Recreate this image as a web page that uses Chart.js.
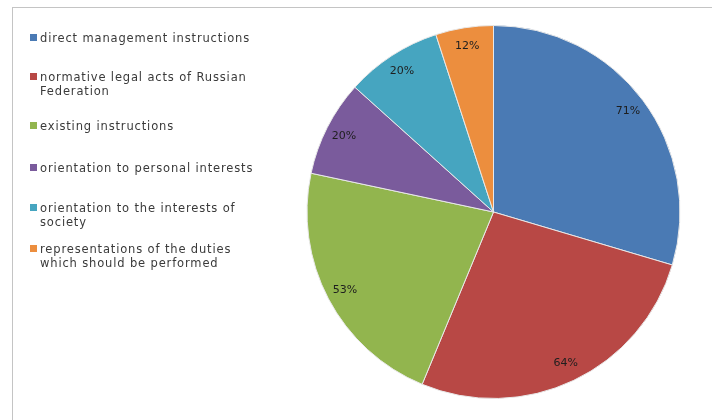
<!DOCTYPE html>
<html>
<head>
<meta charset="utf-8">
<script src="https://cdn.jsdelivr.net/npm/chart.js@4/dist/chart.umd.min.js"></script>
<style>
    html, body { margin: 0; padding: 0; background: #fff; }
    #wrap { position: relative; width: 712px; height: 420px; overflow: hidden; }
    #frame { position: absolute; left: 12px; top: 7px; width: 720px; height: 440px; border: 1px solid #c4c4c4; }
    #chart { position: absolute; left: 0; top: 0; }
    #legend { position: absolute; left: 0; top: 0; font-family: "DejaVu Sans", sans-serif; font-size: 11.5px; letter-spacing: 0.85px; color: #3a3a3a; line-height: 14px; }
    .item { position: absolute; left: 30px; width: 270px; white-space: nowrap; }
    .box { position: absolute; left: 0; top: 3px; width: 7px; height: 7px; }
    .txt { position: absolute; left: 10px; top: 0; }
</style>
</head>
<body>
<div id="wrap">
    <div id="frame"></div>
    <canvas id="chart" width="712" height="420"></canvas>
    <div id="legend"></div>
</div>
<script>
const labels = [
    ["direct management  instructions"],
    ["normative legal acts of Russian", "Federation"],
    ["existing instructions"],
    ["orientation to personal interests"],
    ["orientation to the interests of", "society"],
    ["representations of the duties", "which should be performed"]
];

const values = [71, 64, 53, 20, 20, 12];

const colors = [
    "#4a7ab4",
    "#b84845",
    "#92b54e",
    "#7a5b9c",
    "#46a5c0",
    "#ec8e3e"
];

// legend rows, top of each item
const legendTops = [31, 70, 119, 161, 201, 242];

const legend = document.getElementById("legend");
labels.forEach((lab, i) => {
    const item = document.createElement("div");
    item.className = "item";
    item.style.top = legendTops[i] + "px";
    item.innerHTML =
        '<div class="box" style="background:' + colors[i] + '"></div>' +
        '<div class="txt">' + lab.join("<br>") + "</div>";
    legend.appendChild(item);
});

// percent labels inside the slices
const sliceLabels = {
    id: "sliceLabels",
    afterDatasetsDraw(chart) {
        const c = chart.ctx;
        const meta = chart.getDatasetMeta(0);
        c.save();
        c.font = "11px 'DejaVu Sans', sans-serif";
        c.fillStyle = "#1e1e1e";
        c.textAlign = "center";
        c.textBaseline = "middle";
        meta.data.forEach((arc, i) => {
            const p = arc.getProps(["x", "y", "startAngle", "endAngle", "outerRadius"], true);
            const a = (p.startAngle + p.endAngle) / 2;
            const r = p.outerRadius * 0.9;
            c.fillText(values[i] + "%", p.x + Math.cos(a) * r, p.y + Math.sin(a) * r);
        });
        c.restore();
    }
};

new Chart(document.getElementById("chart"), {
    type: "pie",
    data: {
        labels: labels.map(l => l.join(" ")),
        datasets: [{
            data: values,
            backgroundColor: colors,
            borderColor: "#e8e8e8",
            borderWidth: 1
        }]
    },
    options: {
        responsive: false,
        animation: false,
        layout: {
            padding: { left: 306, right: 31, top: 25, bottom: 21 }
        },
        plugins: {
            legend: { display: false },
            tooltip: { enabled: false }
        }
    },
    plugins: [sliceLabels]
});
</script>
</body>
</html>
